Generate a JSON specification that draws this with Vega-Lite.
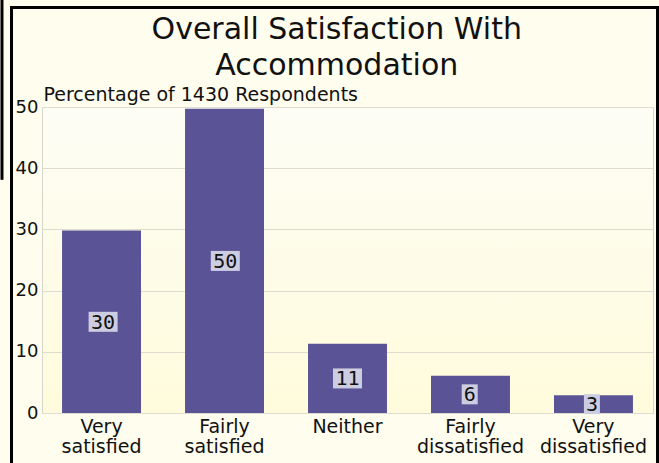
{
  "$schema": "https://vega.github.io/schema/vega-lite/v6.json",
  "width": 611,
  "height": 306,
  "autosize": "none",
  "padding": {"left": 42, "top": 107, "right": 6, "bottom": 50},
  "background": "#fefdee",
  "title": {
    "text": ["Overall Satisfaction With", "Accommodation"],
    "font": "DejaVu Sans",
    "fontSize": 30,
    "fontWeight": "normal",
    "color": "#111111",
    "anchor": "middle",
    "frame": "bounds",
    "lineHeight": 36,
    "offset": -86,
    "dx": 7
  },
  "data": {
    "values": [
      {"category": "Very satisfied", "value": 29.8, "label": "30"},
      {"category": "Fairly satisfied", "value": 49.7, "label": "50"},
      {"category": "Neither", "value": 11.3, "label": "11"},
      {"category": "Fairly dissatisfied", "value": 6.1, "label": "6"},
      {"category": "Very dissatisfied", "value": 2.9, "label": "3"}
    ]
  },
  "layer": [
    {
      "mark": {"type": "bar", "color": "#5a5396"},
      "encoding": {
        "x": {
          "field": "category",
          "type": "nominal",
          "sort": null,
          "scale": {"paddingInner": 0.358, "paddingOuter": 0.163},
          "axis": {
            "title": null,
            "labelAngle": 0,
            "labelExpr": "split(datum.label, ' ')",
            "labelFont": "DejaVu Sans",
            "labelFontSize": 19,
            "labelLineHeight": 20,
            "labelColor": "#111111",
            "labelPadding": 4,
            "ticks": false,
            "domain": false
          }
        },
        "y": {
          "field": "value",
          "type": "quantitative",
          "scale": {"domain": [0, 50], "nice": false},
          "axis": {
            "values": [0, 10, 20, 30, 40, 50],
            "title": "Percentage of 1430 Respondents",
            "titleAngle": 0,
            "titleAlign": "left",
            "titleBaseline": "alphabetic",
            "titleX": 1,
            "titleY": -7,
            "titleFont": "DejaVu Sans",
            "titleFontSize": 19,
            "titleFontWeight": "normal",
            "titleColor": "#111111",
            "labelFont": "DejaVu Sans",
            "labelFontSize": 18,
            "labelColor": "#111111",
            "labelPadding": 4,
            "ticks": false,
            "domain": false,
            "gridColor": "#dedcd0",
            "gridWidth": 1
          }
        }
      }
    },
    {
      "layer": [
        {
          "transform": [{"filter": "datum.value >= 10"}],
          "mark": {"type": "point", "filled": true, "opacity": 1, "color": "#cdcde2", "shape": "M-1.45,-1H1.45V1H-1.45Z", "size": 400}
        },
        {
          "transform": [{"filter": "datum.value < 10"}],
          "mark": {"type": "point", "filled": true, "opacity": 1, "color": "#cdcde2", "shape": "M-0.8,-1H0.8V1H-0.8Z", "size": 400}
        },
        {
          "mark": {"type": "text", "font": "DejaVu Sans Mono", "fontSize": 20, "color": "#111111", "baseline": "middle", "align": "center", "dy": 1},
          "encoding": {"text": {"field": "label"}}
        }
      ],
      "encoding": {
        "x": {
          "field": "category",
          "type": "nominal",
          "sort": null,
          "scale": {"paddingInner": 0.358, "paddingOuter": 0.163},
          "axis": null
        },
        "y": {
          "field": "value",
          "type": "quantitative",
          "scale": {"domain": [0, 100], "nice": false},
          "axis": null
        }
      }
    },
    {
      "data": {"values": [{}]},
      "layer": [
        {
          "mark": {"type": "rect", "fill": null, "filled": false, "stroke": "#000000", "strokeWidth": 3, "clip": false},
          "encoding": {
            "x": {"datum": -0.0499, "type": "quantitative", "scale": {"domain": [0, 1], "nice": false, "zero": false}, "axis": null},
            "x2": {"datum": 1.0074},
            "y": {"datum": 66.26, "type": "quantitative", "scale": {"domain": [0, 50], "nice": false}, "axis": null},
            "y2": {"datum": -10}
          }
        },
        {
          "mark": {"type": "rule", "stroke": "#000000", "strokeWidth": 3, "clip": false},
          "encoding": {
            "x": {"datum": -0.0655, "type": "quantitative"},
            "y": {"datum": 68, "type": "quantitative"},
            "y2": {"datum": 38.1}
          }
        }
      ]
    }
  ],
  "resolve": {"scale": {"x": "independent", "y": "independent"}},
  "config": {
    "view": {
      "stroke": "#d8d6cc",
      "strokeWidth": 1,
      "fill": {
        "gradient": "linear",
        "x1": 0, "y1": 0, "x2": 0, "y2": 1,
        "stops": [
          {"offset": 0, "color": "#fdfdf5"},
          {"offset": 1, "color": "#fffbdc"}
        ]
      }
    }
  }
}
